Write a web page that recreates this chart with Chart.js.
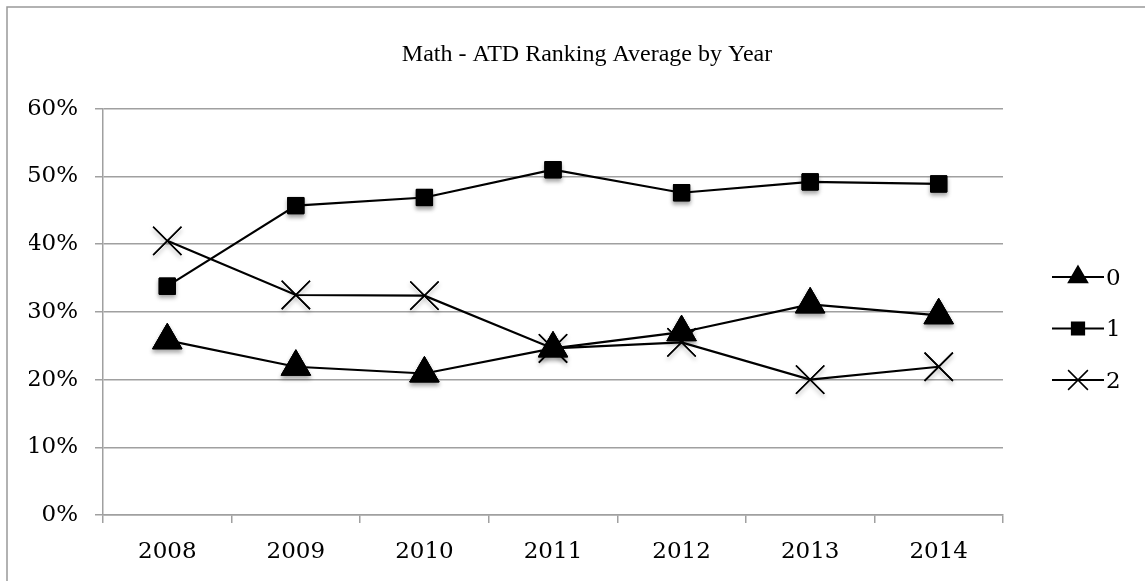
<!DOCTYPE html>
<html>
<head>
<meta charset="utf-8">
<title>Math - ATD Ranking Average by Year</title>
<script src="https://cdn.jsdelivr.net/npm/chart.js@4"></script>
<style>
body{margin:0;background:#fff;}
</style>
</head>
<body>
<canvas id="myChart" width="1145" height="581"></canvas>
<script>
var years=['2008','2009','2010','2011','2012','2013','2014'];
var names=['0','1','2'];
var rank0=[25.8,21.9,20.9,24.6,27.0,31.1,29.5];
var rank1=[33.8,45.7,46.9,51.0,47.6,49.2,48.9];
var rank2=[40.5,32.5,32.4,24.6,25.5,20.0,21.9];
var yTicks=[0,10,20,30,40,50,60];

var styles=['triangle','rect','crossRot'];
var legendSizes=[11,9,14];
var gridClr='#a0a0a0';

// frame round the chart, soft marker shadows, and the line/marker legend on the right
var boxPlugin={
  id:'boxPlugin',
  beforeDraw:function(chart){
    var c=chart.ctx;
    c.save();
    c.fillStyle='#fff';
    c.fillRect(0,0,chart.width,chart.height);
    c.strokeStyle='#999';
    c.lineWidth=1.5;
    c.strokeRect(7,7,chart.width+20,chart.height+20);
    c.restore();
  },
  afterDatasetsDraw:function(chart){
    var c=chart.ctx;
    c.save();
    c.shadowColor='rgba(0,0,0,0.35)';
    c.shadowBlur=4;
    c.shadowOffsetY=3;
    for(var d=chart.data.datasets.length-1;d>=0;d--){
      var meta=chart.getDatasetMeta(d);
      meta.data.forEach(function(p){p.draw(c,chart.chartArea);});
    }
    c.restore();
  },
  afterDraw:function(chart){
    var c=chart.ctx;
    var x0=chart.chartArea.right+49;
    c.save();
    for(var i=0;i<names.length;i++){
      var y=277+51.5*i;
      c.strokeStyle='#000';
      c.lineWidth=2;
      c.beginPath();
      c.moveTo(x0,y);
      c.lineTo(x0+52,y);
      c.stroke();
      c.fillStyle='#000';
      c.lineWidth=1.5;
      Chart.helpers.drawPoint(c,{pointStyle:styles[i],radius:legendSizes[i],borderWidth:1.5,rotation:0},x0+26,y);
      c.font='23px "DejaVu Serif"';
      c.textBaseline='middle';
      c.textAlign='left';
      c.fillText(names[i],x0+54,y+2);
    }
    c.restore();
  }
};

Chart.defaults.font.family='"DejaVu Serif"';
Chart.defaults.color='#000';

var ctx=document.getElementById('myChart').getContext('2d');
var chart=new Chart(ctx,{
  type:'line',
  data:{
    labels:years,
    datasets:[
      {label:names[0],data:rank0,borderColor:'#000',backgroundColor:'#000',borderWidth:2.2,
       pointStyle:styles[0],pointRadius:17,pointHoverRadius:17,pointBorderWidth:1},
      {label:names[1],data:rank1,borderColor:'#000',backgroundColor:'#000',borderWidth:2.2,
       pointStyle:styles[1],pointRadius:11.5,pointHoverRadius:11.5,pointBorderWidth:1},
      {label:names[2],data:rank2,borderColor:'#000',backgroundColor:'#000',borderWidth:2.2,
       pointStyle:styles[2],pointRadius:20,pointHoverRadius:20,pointBorderWidth:1.5}
    ]
  },
  options:{
    responsive:false,
    animation:false,
    layout:{padding:{left:29,right:0,top:0,bottom:0}},
    plugins:{
      legend:{display:false},
      tooltip:{enabled:false},
      title:{
        display:true,
        text:'Math - ATD Ranking Average by Year',
        color:'#000',
        font:{family:'"Liberation Serif"',size:24,weight:'normal'},
        padding:{top:40,bottom:40}
      }
    },
    scales:{
      x:{
        offset:true,
        grid:{offset:true,drawOnChartArea:false,drawTicks:true,tickLength:8,color:gridClr,lineWidth:1.5},
        border:{display:true,color:gridClr,width:1.5},
        ticks:{font:{size:23},color:'#000',padding:15,maxRotation:0},
        afterFit:function(s){s.height=66;}
      },
      y:{
        min:0,
        max:60,
        afterBuildTicks:function(s){s.ticks=yTicks.map(function(v){return {value:v};});},
        ticks:{font:{size:23},color:'#000',padding:17,callback:function(v){return v+'%';}},
        grid:{color:gridClr,lineWidth:1.5,tickLength:8},
        border:{display:true,color:gridClr,width:1.5},
        afterFit:function(s){s.width=74;}
      },
      yr:{
        type:'linear',
        position:'right',
        grid:{display:false},
        border:{display:false},
        ticks:{display:false},
        afterFit:function(s){s.width=142;}
      }
    }
  },
  plugins:[boxPlugin]
});
</script>
</body>
</html>
